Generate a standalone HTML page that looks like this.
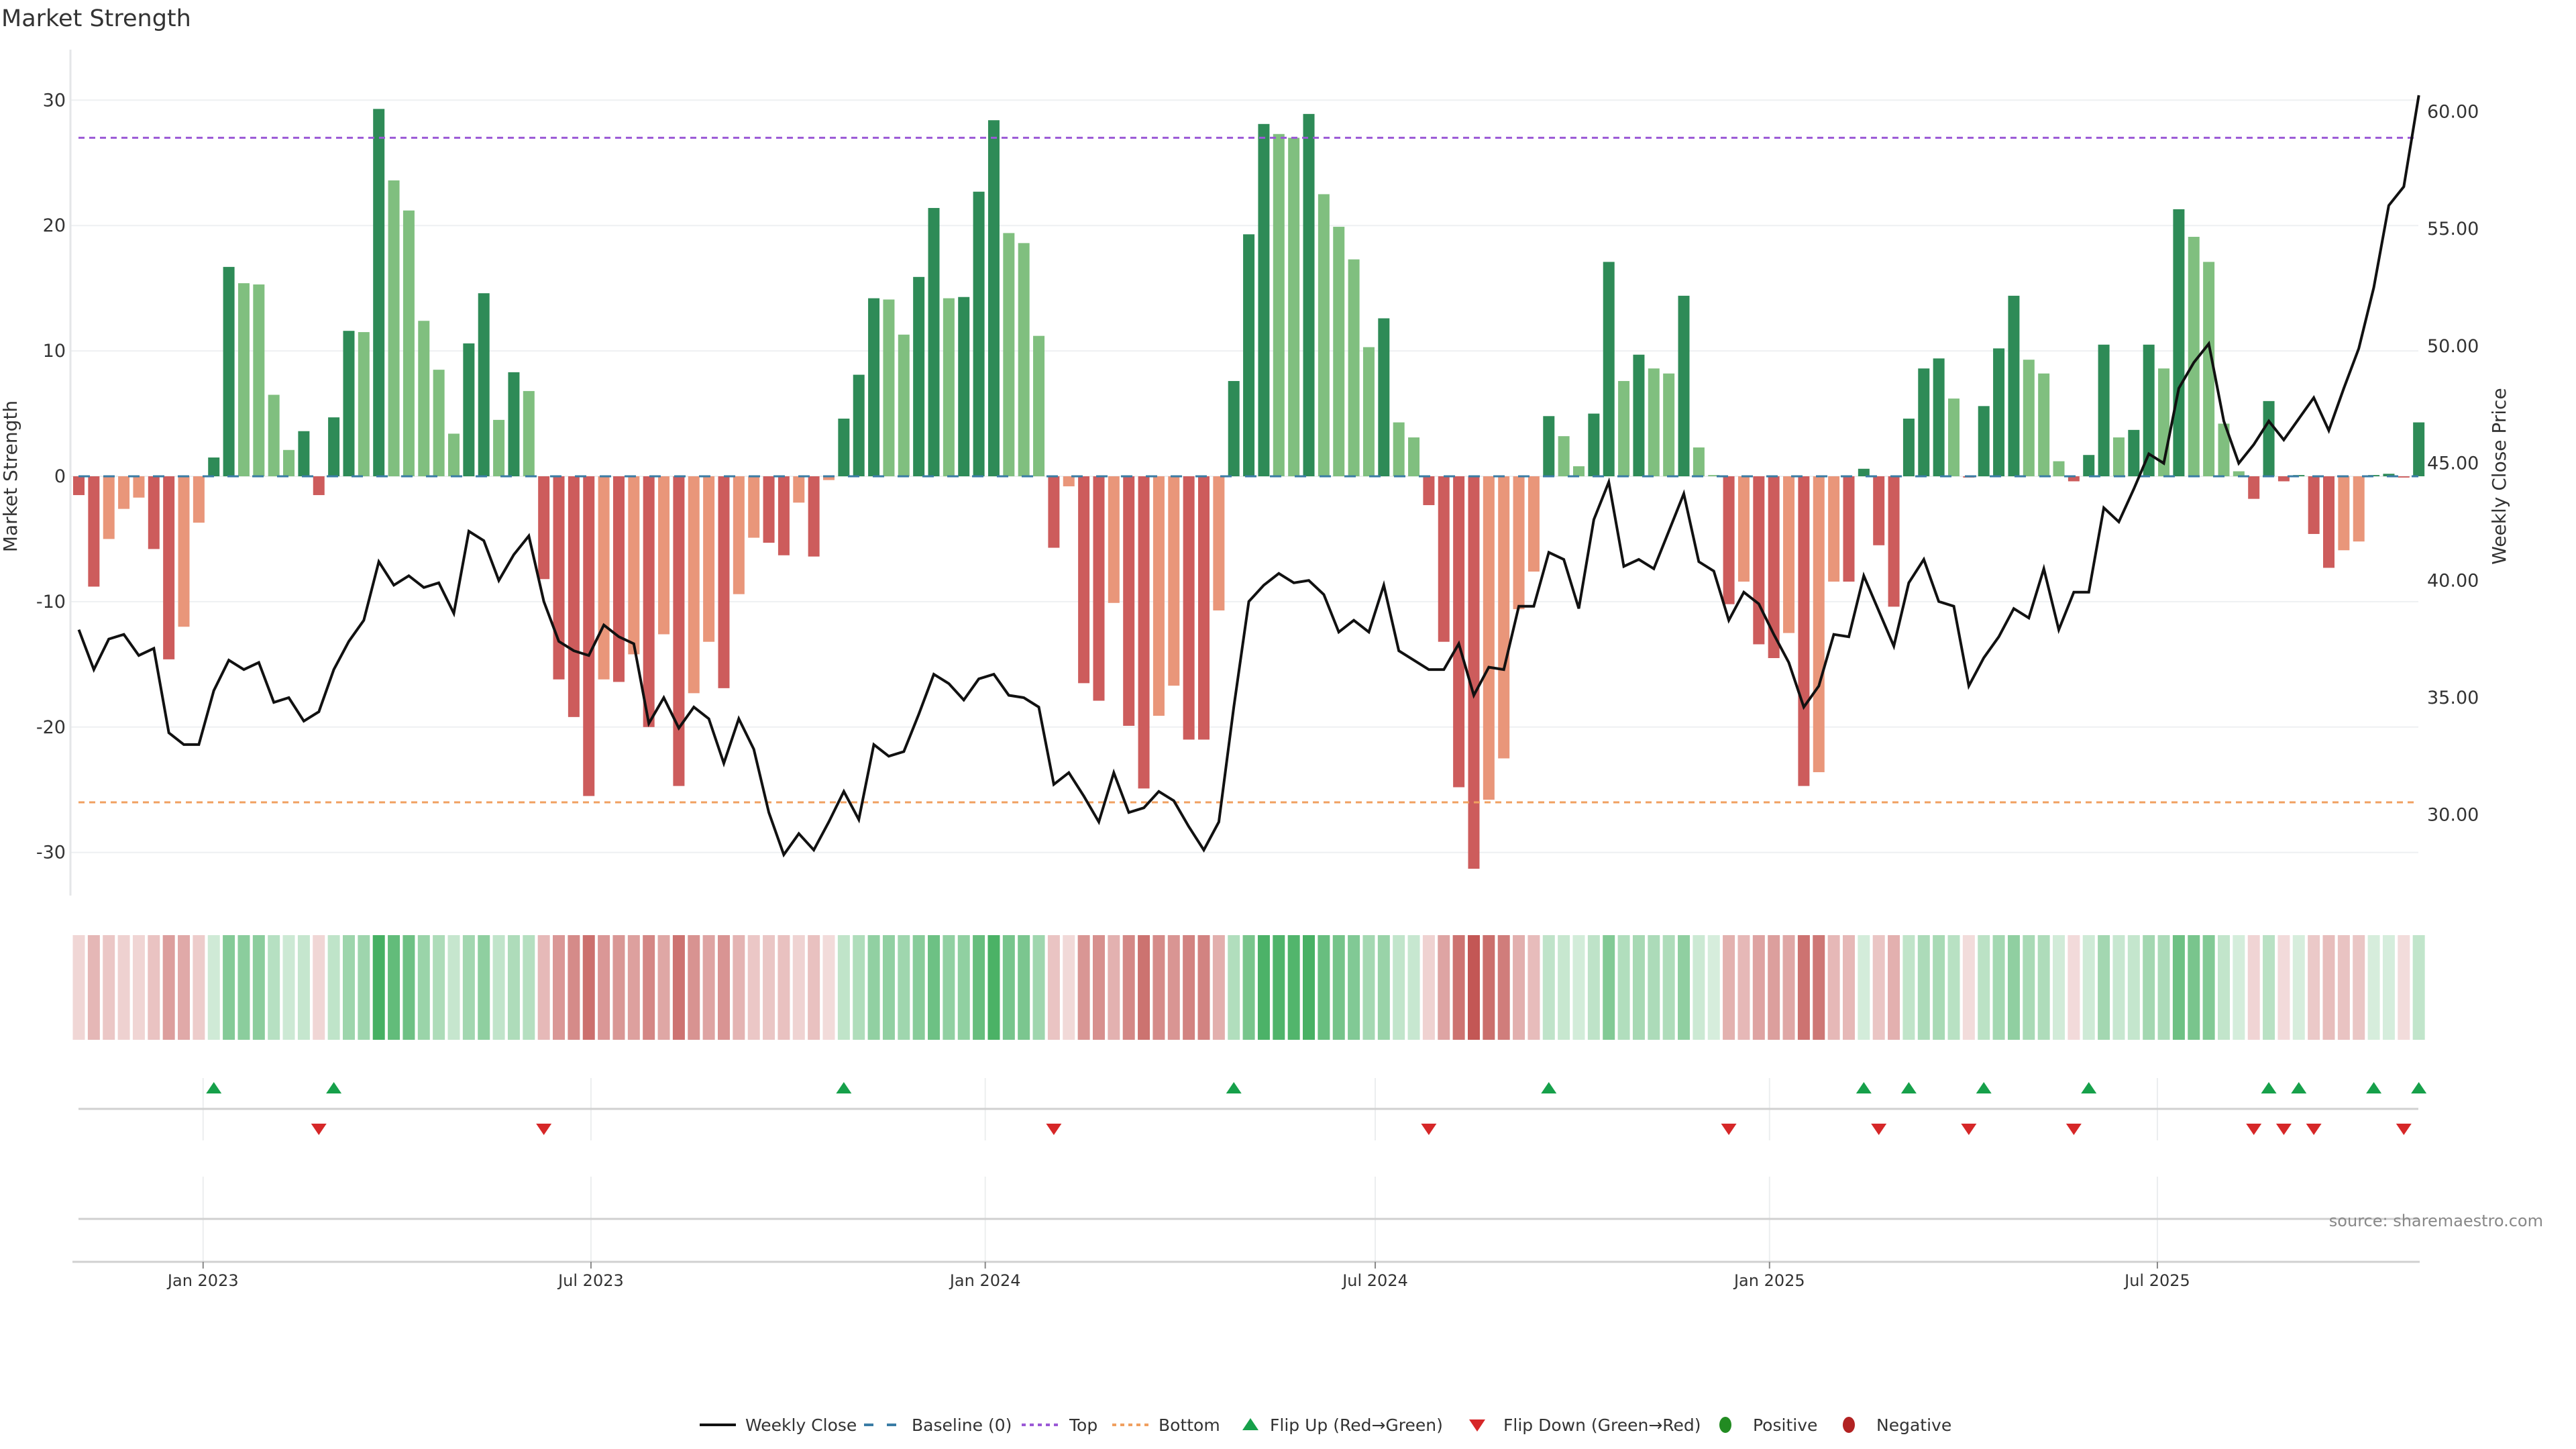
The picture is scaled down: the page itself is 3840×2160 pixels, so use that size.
<!DOCTYPE html>
<html><head><meta charset="utf-8"><style>
html,body{margin:0;padding:0;background:#fff;}
svg{display:block;font-family:"DejaVu Sans","Liberation Sans",sans-serif;}
</style></head><body>
<svg id="chart" width="3840" height="2160" viewBox="0 0 3840 2160" xmlns="http://www.w3.org/2000/svg">
<text x="2" y="39" font-size="35" fill="#333">Market Strength</text>
<g id="grid"></g>
<g id="bars"></g>
<g id="lines"></g>
<g id="price"></g>
<g id="axes"></g>
<g id="heat"></g>
<g id="flips"></g>
<text x="3791" y="1828" font-size="24" fill="#888" text-anchor="end">source: sharemaestro.com</text>
<g id="legend" font-size="25" fill="#333">
  <line x1="1043" y1="2124" x2="1097" y2="2124" stroke="#111" stroke-width="4"/>
  <text x="1111" y="2133">Weekly Close</text>
  <line x1="1288" y1="2124" x2="1345" y2="2124" stroke="#3a7ca5" stroke-width="4" stroke-dasharray="14,20"/>
  <text x="1359" y="2133">Baseline (0)</text>
  <line x1="1523" y1="2124" x2="1580" y2="2124" stroke="#9b59d6" stroke-width="4" stroke-dasharray="6,6"/>
  <text x="1594" y="2133">Top</text>
  <line x1="1658" y1="2124" x2="1712" y2="2124" stroke="#f0a060" stroke-width="4" stroke-dasharray="6,6"/>
  <text x="1727" y="2133">Bottom</text>
  <polygon points="1864,2114 1876,2132 1852,2132" fill="#16a04a"/>
  <text x="1893" y="2133">Flip Up (Red→Green)</text>
  <polygon points="2190,2116 2214,2116 2202,2134" fill="#d62728"/>
  <text x="2241" y="2133">Flip Down (Green→Red)</text>
  <ellipse cx="2572" cy="2124" rx="9" ry="12" fill="#228b22"/>
  <text x="2613" y="2133">Positive</text>
  <ellipse cx="2756" cy="2124" rx="9" ry="12" fill="#b22222"/>
  <text x="2797" y="2133">Negative</text>
</g>
</svg>
<script>
const strength = [-1.5,-8.8,-5,-2.6,-1.7,-5.8,-14.6,-12,-3.7,1.5,16.7,15.4,15.3,6.5,2.1,3.6,-1.5,4.7,11.6,11.5,29.3,23.6,21.2,12.4,8.5,3.4,10.6,14.6,4.5,8.3,6.8,-8.2,-16.2,-19.2,-25.5,-16.2,-16.4,-14.2,-20,-12.6,-24.7,-17.3,-13.2,-16.9,-9.4,-4.9,-5.3,-6.3,-2.1,-6.4,-0.3,4.6,8.1,14.2,14.1,11.3,15.9,21.4,14.2,14.3,22.7,28.4,19.4,18.6,11.2,-5.7,-0.8,-16.5,-17.9,-10.1,-19.9,-24.9,-19.1,-16.7,-21,-21,-10.7,7.6,19.3,28.1,27.3,27,28.9,22.5,19.9,17.3,10.3,12.6,4.3,3.1,-2.3,-13.2,-24.8,-31.3,-25.8,-22.5,-10.6,-7.6,4.8,3.2,0.8,5,17.1,7.6,9.7,8.6,8.2,14.4,2.3,0.1,-10.2,-8.4,-13.4,-14.5,-12.5,-24.7,-23.6,-8.4,-8.4,0.6,-5.5,-10.4,4.6,8.6,9.4,6.2,-0.1,5.6,10.2,14.4,9.3,8.2,1.2,-0.4,1.7,10.5,3.1,3.7,10.5,8.6,21.3,19.1,17.1,4.2,0.4,-1.8,6,-0.4,0.1,-4.6,-7.3,-5.9,-5.2,0.1,0.2,-0.1,4.3];
const closePrice = [37.9,36.2,37.5,37.7,36.8,37.1,33.5,33.0,33.0,35.3,36.6,36.2,36.5,34.8,35.0,34.0,34.4,36.2,37.4,38.3,40.8,39.8,40.2,39.7,39.9,38.6,42.1,41.7,40.0,41.1,41.9,39.1,37.4,37.0,36.8,38.1,37.6,37.3,33.9,35.0,33.7,34.6,34.1,32.2,34.1,32.8,30.1,28.3,29.2,28.5,29.7,31.0,29.8,33.0,32.5,32.7,34.3,36.0,35.6,34.9,35.8,36.0,35.1,35.0,34.6,31.3,31.8,30.8,29.7,31.8,30.1,30.3,31.0,30.6,29.5,28.5,29.7,34.6,39.1,39.8,40.3,39.9,40.0,39.4,37.8,38.3,37.8,39.8,37.0,36.6,36.2,36.2,37.3,35.1,36.3,36.2,38.9,38.9,41.2,40.9,38.8,42.6,44.2,40.6,40.9,40.5,42.1,43.7,40.8,40.4,38.3,39.5,39.0,37.7,36.5,34.6,35.5,37.7,37.6,40.2,38.7,37.2,39.9,40.9,39.1,38.9,35.5,36.7,37.6,38.8,38.4,40.5,37.9,39.5,39.5,43.1,42.5,43.9,45.4,45.0,48.2,49.3,50.1,46.8,45.0,45.8,46.8,46.0,46.9,47.8,46.4,48.2,49.9,52.5,56.0,56.8,60.7];
const leftTicks = [30,20,10,0,-10,-20,-30];
const rightTicks = [60,55,50,45,40,35,30];
const monthLabels = ["Jan 2023","Jul 2023","Jan 2024","Jul 2024","Jan 2025","Jul 2025"];
const monthDates = ["2023-01-01","2023-07-01","2024-01-01","2024-07-01","2025-01-01","2025-07-01"];
const startDate = "2022-11-04";
const topLevel = [27];
const bottomLevel = [-26];

const NS="http://www.w3.org/2000/svg";
const X0=117.5, STEP=22.36;
const xAt=i=>X0+i*STEP;
const yL=v=>710-v*18.69;
const yR=v=>166.5+(60-v)*34.94;
const xDate=d=>X0+((new Date(d)-new Date(startDate))/86400000/7)*STEP;
function mk(tag,attrs,parent){const e=document.createElementNS(NS,tag);for(const k in attrs)e.setAttribute(k,attrs[k]);parent.appendChild(e);return e;}
const G=id=>document.getElementById(id);

leftTicks.forEach(v=>{
  const l=mk('line',{x1:105,x2:3605,y1:yL(v),y2:yL(v),stroke:'#eef0f2','stroke-width':2},G('grid'));
  
  
  const t=mk('text',{x:98,y:yL(v)+9,'font-size':27,fill:'#333','text-anchor':'end'},G('axes'));
  t.textContent=v;
  
  
});
rightTicks.forEach(v=>{
  const t=mk('text',{x:3618,y:yR(v)+9,'font-size':27,fill:'#333'},G('axes'));
  t.textContent=v.toFixed(2);
  
  
});
{
const a=mk('line',{x1:105,x2:105,y1:74,y2:1335,stroke:'#e4e6e8','stroke-width':3},G('axes'));


const t1=mk('text',{x:0,y:0,'font-size':28,fill:'#333','text-anchor':'middle',transform:'translate(25,710) rotate(-90)'},G('axes'));
t1.textContent='Market Strength';


const t2=mk('text',{x:0,y:0,'font-size':28,fill:'#333','text-anchor':'middle',transform:'translate(3735,710) rotate(-90)'},G('axes'));
t2.textContent='Weekly Close Price';


}
strength.forEach((v,i)=>{
  const prev=i>0?strength[i-1]:0;
  let c;
  if(v>=0) c=(v>=prev)?'#2e8b57':'#80bf7f'; else c=(v<=prev)?'#cd5c5c':'#e9967a';
  const y=Math.min(yL(v),yL(0)), h=Math.abs(yL(v)-yL(0));
  const r=mk('rect',{x:xAt(i)-8.5,y:y,width:17,height:Math.max(h,0.5),fill:c},G('bars'));
  
  
});
{
const b=mk('line',{x1:117,x2:3605,y1:yL(0),y2:yL(0),stroke:'#3a7ca5','stroke-width':3,'stroke-dasharray':'17,20'},G('lines'));


const tp=mk('line',{x1:117,x2:3605,y1:yL(topLevel[0]),y2:yL(topLevel[0]),stroke:'#9b59d6','stroke-width':3,'stroke-dasharray':'9,7'},G('lines'));


const bt=mk('line',{x1:117,x2:3605,y1:yL(bottomLevel[0]),y2:yL(bottomLevel[0]),stroke:'#f0a060','stroke-width':3,'stroke-dasharray':'9,7'},G('lines'));


}
{
const pts=closePrice.map((p,i)=>xAt(i).toFixed(1)+','+yR(p).toFixed(1)).join(' ');
const pl=mk('polyline',{points:pts,fill:'none',stroke:'#111','stroke-width':4,'stroke-linejoin':'miter'},G('price'));


}
strength.forEach((v,i)=>{
  const a=Math.min(1,0.2+0.75*Math.abs(v)/31);
  const base=v>=0?[52,168,83]:[192,80,77];
  const col='rgb('+base.map(b=>Math.round(255-a*(255-b))).join(',')+')';
  const r=mk('rect',{x:xAt(i)-9,y:1394,width:18,height:156,fill:col},G('heat'));
  
  
});
{
[[1653],[1817]].forEach(([y])=>{
  const l=mk('line',{x1:117,x2:3605,y1:y,y2:y,stroke:'#d0d0d0','stroke-width':3},G('flips'));
  
  
});
const ax=mk('line',{x1:108,x2:3607,y1:1881,y2:1881,stroke:'#d0d0d0','stroke-width':3},G('axes'));


monthDates.forEach((d,k)=>{
  const x=xDate(d);
  [[1607,1700],[1754,1880]].forEach(([a,b])=>{
    const g=mk('line',{x1:x,x2:x,y1:a,y2:b,stroke:'#eceeef','stroke-width':2},G('grid'));
    
    
  });
  const tk=mk('line',{x1:x,x2:x,y1:1881,y2:1891,stroke:'#888','stroke-width':2},G('axes'));
  
  
  const t=mk('text',{x:x,y:1917,'font-size':24,fill:'#333','text-anchor':'middle'},G('axes'));
  t.textContent=monthLabels[k];
  
  
});
for(let i=1;i<strength.length;i++){
  const p=strength[i-1], v=strength[i], x=xAt(i);
  if(p<0&&v>=0){
    const t=mk('polygon',{points:`${x},1613 ${x+11.5},1630 ${x-11.5},1630`,fill:'#16a04a'},G('flips'));
    
    
  } else if(p>=0&&v<0){
    const t=mk('polygon',{points:`${x-11.5},1675 ${x+11.5},1675 ${x},1692`,fill:'#d62728'},G('flips'));
    
    
  }
}
}
</script>
</body></html>
